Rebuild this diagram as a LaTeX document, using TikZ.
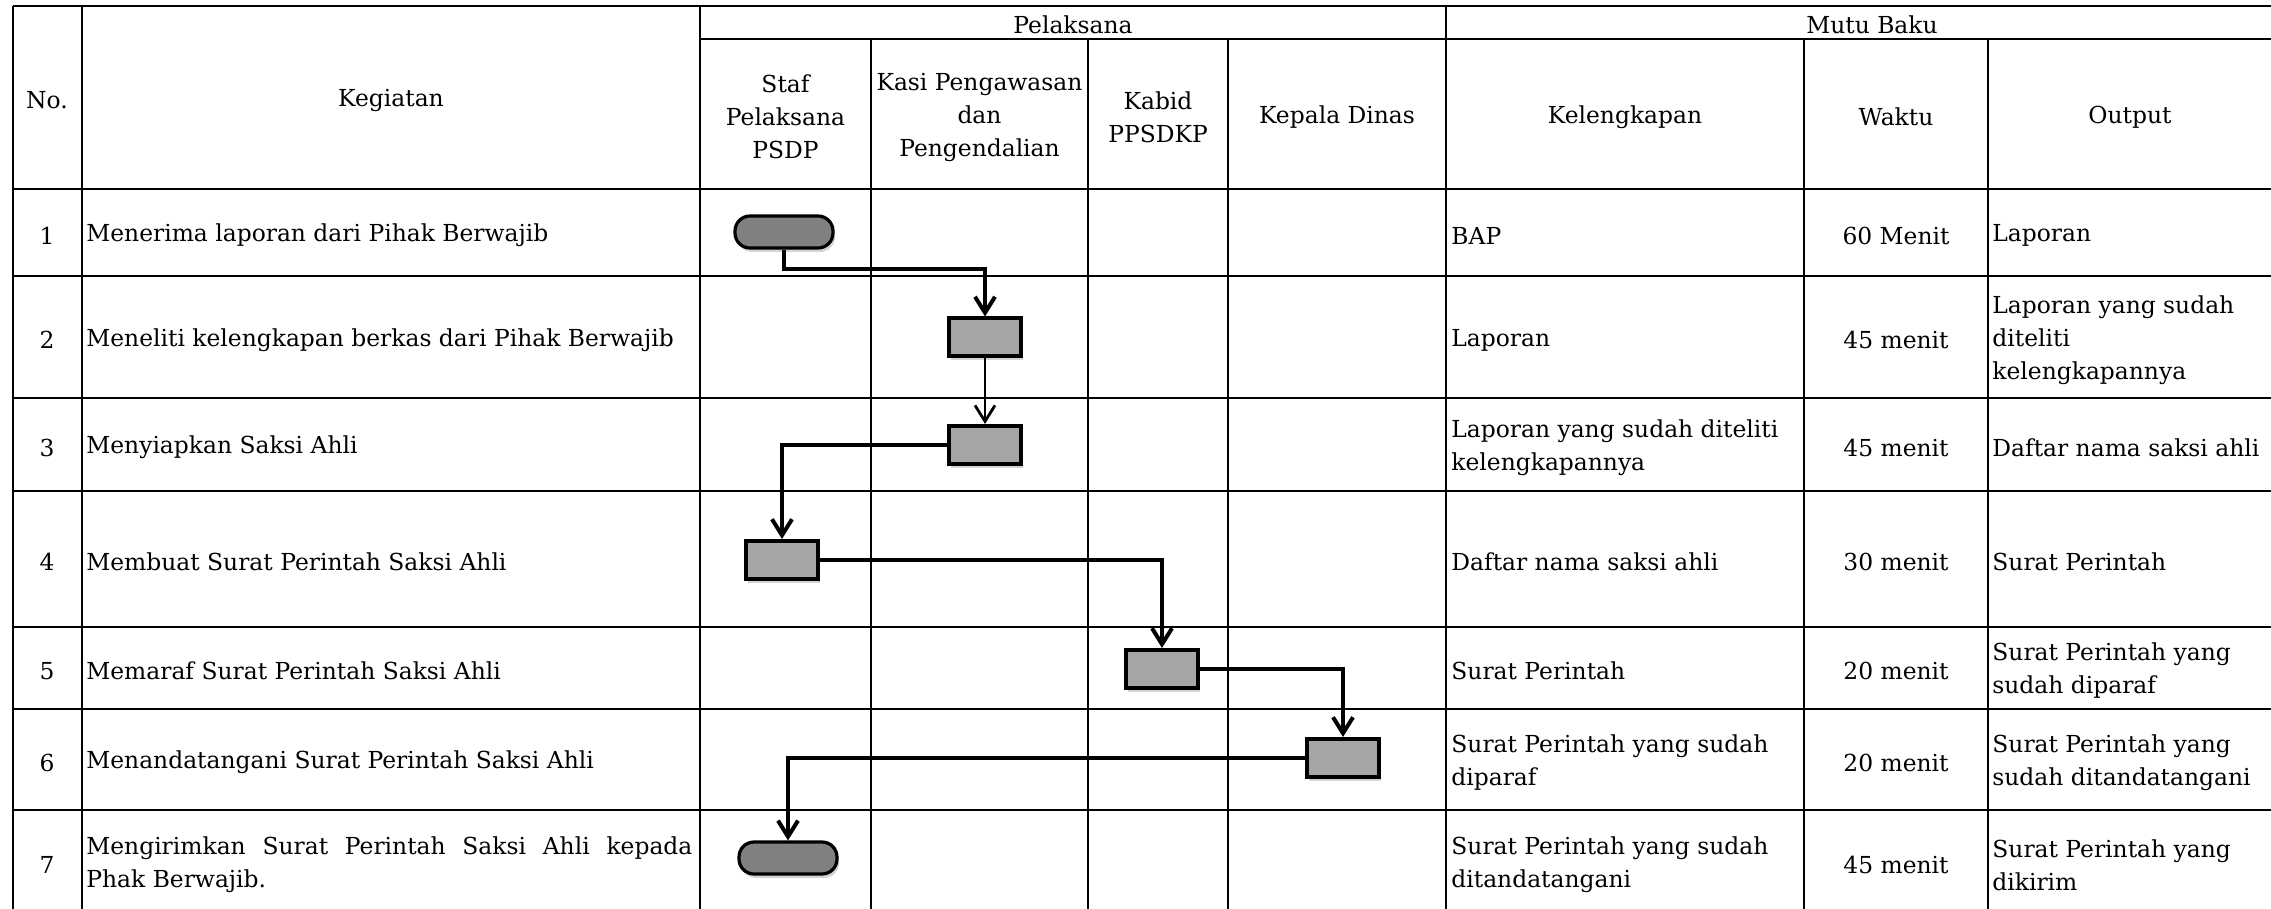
\documentclass[tikz,border=0pt]{standalone}
\usepackage{fontspec}
\setmainfont{DejaVu Serif}
\usetikzlibrary{arrows.meta,shadows}
\definecolor{termgray}{gray}{0.5}
\definecolor{boxgray}{gray}{0.65}
\tikzset{
  gridline/.style={line width=1pt},
  txt/.style={inner sep=0pt, yshift=-1.5pt, font=\fontsize{11.7}{16.5}\selectfont},
  terminal/.style={rectangle, rounded corners=7.5pt, draw, line width=1.6pt, fill=termgray,
    minimum width=49pt, minimum height=16pt,
    drop shadow={opacity=0.35, shadow xshift=1pt, shadow yshift=-2pt}},
  process/.style={rectangle, draw, line width=2pt, fill=boxgray,
    minimum width=36pt, minimum height=19pt,
    drop shadow={opacity=0.35, shadow xshift=1pt, shadow yshift=-2pt}},
  flow/.style={line width=2pt, -{Straight Barb[length=8pt,width=10pt,line width=2pt]}},
  thinflow/.style={line width=1pt, -{Straight Barb[length=8pt,width=10pt,line width=1.4pt]}},
}
\begin{document}
\begin{tikzpicture}[x=0.5pt,y=-0.5pt]
\useasboundingbox (0,0) rectangle (2271,909);
\clip (0,0) rectangle (2271,909);

% table
\draw[gridline] (13,6) -- (2280,6);
\draw[gridline] (700,39) -- (2280,39);
\draw[gridline] (13,189) -- (2280,189);
\draw[gridline] (13,276) -- (2280,276);
\draw[gridline] (13,398) -- (2280,398);
\draw[gridline] (13,491) -- (2280,491);
\draw[gridline] (13,627) -- (2280,627);
\draw[gridline] (13,709) -- (2280,709);
\draw[gridline] (13,810) -- (2280,810);

\draw[gridline] (13,6) -- (13,915);
\draw[gridline] (82,6) -- (82,915);
\draw[gridline] (700,6) -- (700,915);
\draw[gridline] (871,39) -- (871,915);
\draw[gridline] (1088,39) -- (1088,915);
\draw[gridline] (1228,39) -- (1228,915);
\draw[gridline] (1446,6) -- (1446,915);
\draw[gridline] (1804,39) -- (1804,915);
\draw[gridline] (1988,39) -- (1988,915);
\draw[gridline] (2280,6) -- (2280,915);

% header
\node[txt] (hno) at (47,97) {No.};
\node[txt] (hkeg) at (391,97) {Kegiatan};
\node[txt] (hpel) at (1073,22) {Pelaksana};
\node[txt] (hmutu) at (1872,22) {Mutu Baku};
\node[txt, align=center] (hstaf) at (785.5,114) {Staf\\Pelaksana\\PSDP};
\node[txt, align=center] (hkasi) at (979.5,114) {Kasi Pengawasan\\dan\\Pengendalian};
\node[txt, align=center] (hkabid) at (1158,114) {Kabid\\PPSDKP};
\node[txt] (hkadis) at (1337,114) {Kepala Dinas};
\node[txt] (hkel) at (1625,114) {Kelengkapan};
\node[txt] (hwkt) at (1896,114) {Waktu};
\node[txt] (hout) at (2130,114) {Output};

% nomor
\node[txt] (no1) at (47,232.5) {1};
\node[txt] (no2) at (47,337) {2};
\node[txt] (no3) at (47,444.5) {3};
\node[txt] (no4) at (47,559) {4};
\node[txt] (no5) at (47,668) {5};
\node[txt] (no6) at (47,759.5) {6};
\node[txt] (no7) at (47,862) {7};

% kegiatan
\node[txt, anchor=west] (keg1) at (86,232.5) {Menerima laporan dari Pihak Berwajib};
\node[txt, anchor=west] (keg2) at (86,337) {Meneliti kelengkapan berkas dari Pihak Berwajib};
\node[txt, anchor=west] (keg3) at (86,444.5) {Menyiapkan Saksi Ahli};
\node[txt, anchor=west] (keg4) at (86,559) {Membuat Surat Perintah Saksi Ahli};
\node[txt, anchor=west] (keg5) at (86,668) {Memaraf Surat Perintah Saksi Ahli};
\node[txt, anchor=west] (keg6) at (86,759.5) {Menandatangani Surat Perintah Saksi Ahli};
\node[txt, anchor=west, text width=303pt, align=justify] (keg7) at (86,862)
  {Mengirimkan Surat Perintah Saksi Ahli kepada Phak Berwajib.};

% kelengkapan
\node[txt, anchor=west] (kel1) at (1451,232.5) {BAP};
\node[txt, anchor=west] (kel2) at (1451,337) {Laporan};
\node[txt, anchor=west, align=left] (kel3) at (1451,444.5) {Laporan yang sudah diteliti\\kelengkapannya};
\node[txt, anchor=west] (kel4) at (1451,559) {Daftar nama saksi ahli};
\node[txt, anchor=west] (kel5) at (1451,668) {Surat Perintah};
\node[txt, anchor=west, align=left] (kel6) at (1451,759.5) {Surat Perintah yang sudah\\diparaf};
\node[txt, anchor=west, align=left] (kel7) at (1451,862) {Surat Perintah yang sudah\\ditandatangani};

% waktu
\node[txt] (wkt1) at (1896,232.5) {60 Menit};
\node[txt] (wkt2) at (1896,337) {45 menit};
\node[txt] (wkt3) at (1896,444.5) {45 menit};
\node[txt] (wkt4) at (1896,559) {30 menit};
\node[txt] (wkt5) at (1896,668) {20 menit};
\node[txt] (wkt6) at (1896,759.5) {20 menit};
\node[txt] (wkt7) at (1896,862) {45 menit};

% output
\node[txt, anchor=west] (out1) at (1992,232.5) {Laporan};
\node[txt, anchor=west, align=left] (out2) at (1992,337) {Laporan yang sudah\\diteliti\\kelengkapannya};
\node[txt, anchor=west] (out3) at (1992,444.5) {Daftar nama saksi ahli};
\node[txt, anchor=west] (out4) at (1992,559) {Surat Perintah};
\node[txt, anchor=west, align=left] (out5) at (1992,668) {Surat Perintah yang\\sudah diparaf};
\node[txt, anchor=west, align=left] (out6) at (1992,759.5) {Surat Perintah yang\\sudah ditandatangani};
\node[txt, anchor=west, align=left] (out7) at (1992,862) {Surat Perintah yang\\dikirim};

% alur
\node[terminal] (mulai) at (784,232) {};
\node[process] (teliti) at (985,337.5) {};
\node[process] (saksi) at (985,445) {};
\node[process] (buat) at (782,560) {};
\node[process] (paraf) at (1162,669) {};
\node[process] (ttd) at (1343,758) {};
\node[terminal] (kirim) at (788,858) {};

\draw[flow] (mulai.south) -- ++(0,19) -| (teliti.north);
\draw[thinflow] (teliti.south) -- (saksi.north);
\draw[flow] (saksi.west) -| (buat.north);
\draw[flow] (buat.east) -| (paraf.north);
\draw[flow] (paraf.east) -| (ttd.north);
\draw[flow] (ttd.west) -| (kirim.north);

\end{tikzpicture}
\end{document}
